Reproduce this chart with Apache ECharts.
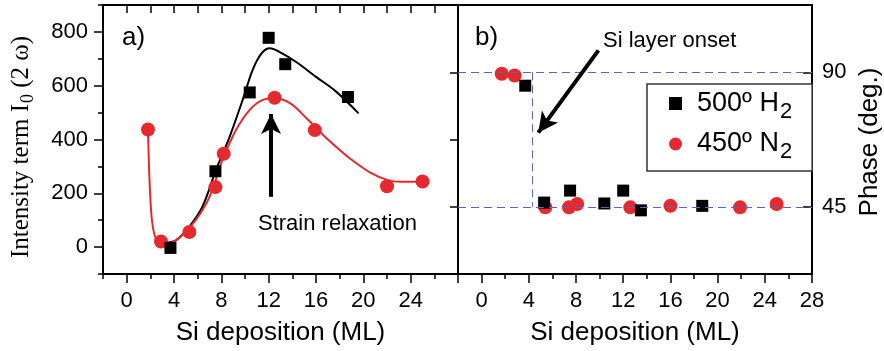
<!DOCTYPE html>
<html>
<head>
<meta charset="utf-8">
<script src="https://cdn.jsdelivr.net/npm/echarts@6/dist/echarts.min.js"></script>
<style>
  html, body { margin: 0; padding: 0; background: #fff; }
  #chart { width: 884px; height: 351px; }
</style>
</head>
<body>
<div id="chart"></div>
<script>
// 数据 (a) 强度项
const h2Deposition = [3.7, 7.5, 10.4, 12.0, 13.4, 18.7];
const h2Intensity = [-3, 282, 575, 778, 680, 558];
const n2Deposition = [1.8, 2.9, 5.3, 7.5, 8.2, 12.5, 15.9, 22.0, 25.0];
const n2Intensity = [437, 21, 56, 223, 347, 555, 435, 226, 244];

// 拟合曲线
const h2FitX = [3.3, 4.2, 5.3, 6.4, 7.55, 8.7, 9.8, 10.65, 11.4, 12.1, 12.9, 14.3, 16.0, 17.7, 19.6];
const h2FitY = [16, 26, 76, 150, 287, 410, 547, 659, 720, 739, 726, 689, 633, 578, 497];
const n2FitX = [1.8, 2.04, 2.32, 2.74, 3.6, 4.7, 5.85, 7.0, 8.1, 9.24, 10.4, 11.5, 12.5, 13.8, 15.2, 16.6, 18.3, 19.1, 20.55, 22.0, 23.1, 24.9];
const n2FitY = [435, 150, 51, 20, 16, 45, 101, 187, 324, 435, 510, 547, 553, 535, 479, 417, 350, 322, 278, 250, 243, 243];

// 数据 (b) 相位
const h2PhaseDeposition = [3.7, 5.3, 7.5, 10.4, 12.0, 13.5, 18.7];
const h2Phase = [85.5, 46.4, 50.4, 46.1, 50.4, 43.8, 45.3];
const n2PhaseDeposition = [1.7, 2.8, 5.4, 7.4, 8.1, 12.6, 16.0, 21.9, 25.0];
const n2Phase = [89.5, 88.9, 44.8, 44.8, 45.9, 44.8, 45.3, 44.8, 45.9];
const phaseLevels = [45, 90];
const onsetDeposition = 4.3;

// 刻度
const leftXLabels = [0, 4, 8, 12, 16, 20, 24];
const rightXLabels = [0, 4, 8, 12, 16, 20, 24, 28];
const xMinorTicks = [-2, 2, 6, 10, 14, 18, 22, 26];
const intensityLabels = [0, 200, 400, 600, 800];
const intensityMinor = [-100, 100, 300, 500, 700, 900];
const phaseLabels = [45, 90];

const h2Name = '500º H2';
const n2Name = '450º N2';
const RED = '#e52a2f';
const SANS = "'Liberation Sans', Arial, sans-serif";
const SERIF = "'Liberation Serif', 'Times New Roman', serif";

const zip = (xs, ys) => xs.map((x, i) => [x, ys[i]]);

const axisLine = { show: true, onZero: false, lineStyle: { color: '#000', width: 2 } };
const noLine = { show: false, onZero: false };
const tickStyle = { color: '#000', width: 1.5 };
const labelStyle = { color: '#000', fontSize: 22, fontFamily: SANS };

const xBase = (grid) => ({ type: 'value', gridIndex: grid, min: -2, max: 28, splitLine: { show: false } });
const yLeft = { type: 'value', gridIndex: 0, min: -100, max: 900, splitLine: { show: false } };
const yRight = { type: 'value', gridIndex: 1, min: 22.5, max: 112.5, interval: 22.5, splitLine: { show: false } };

const myChart = echarts.init(document.getElementById('chart'), null, { renderer: 'canvas' });

const option = {
  animation: false,
  backgroundColor: '#fff',
  grid: [
    { left: 103, top: 5, width: 355, height: 269, outerBoundsMode: 'none' },
    { left: 458, top: 5, width: 354, height: 269, outerBoundsMode: 'none' }
  ],
  xAxis: [
    {
      ...xBase(0), position: 'bottom', axisLine,
      axisTick: { show: true, length: 9, lineStyle: tickStyle, customValues: rightXLabels },
      axisLabel: { ...labelStyle, margin: 16, customValues: leftXLabels },
      name: 'Si deposition (ML)', nameLocation: 'middle', nameGap: 46,
      nameTextStyle: { fontSize: 26, fontFamily: SANS, color: '#000' }
    },
    {
      ...xBase(0), position: 'bottom', axisLine: noLine,
      axisTick: { show: true, length: 5, lineStyle: tickStyle, customValues: xMinorTicks },
      axisLabel: { show: false }
    },
    {
      // 上边框, 内侧刻度
      ...xBase(0), interval: 2, position: 'top', axisLine,
      axisTick: { show: true, inside: true, length: 8, lineStyle: tickStyle },
      axisLabel: { show: true, formatter: () => '' }
    },
    {
      ...xBase(1), position: 'bottom', axisLine,
      axisTick: { show: true, length: 9, lineStyle: tickStyle, customValues: rightXLabels },
      axisLabel: { ...labelStyle, margin: 16, customValues: rightXLabels },
      name: 'Si deposition (ML)', nameLocation: 'middle', nameGap: 46,
      nameTextStyle: { fontSize: 26, fontFamily: SANS, color: '#000' }
    },
    {
      ...xBase(1), position: 'bottom', axisLine: noLine,
      axisTick: { show: true, length: 5, lineStyle: tickStyle, customValues: xMinorTicks },
      axisLabel: { show: false }
    },
    {
      ...xBase(1), position: 'top', axisLine,
      axisTick: { show: false }, axisLabel: { show: false }
    }
  ],
  yAxis: [
    {
      ...yLeft, position: 'left', axisLine,
      axisTick: { show: true, length: 9, lineStyle: tickStyle, customValues: intensityLabels },
      axisLabel: { ...labelStyle, margin: 15, customValues: intensityLabels }
    },
    {
      ...yLeft, position: 'left', axisLine: noLine,
      axisTick: { show: true, length: 5, lineStyle: tickStyle, customValues: intensityMinor },
      axisLabel: { show: false }
    },
    {
      ...yRight, position: 'left', axisLine,
      axisTick: { show: true, length: 8, lineStyle: tickStyle },
      axisLabel: { show: false }
    },
    {
      ...yRight, position: 'right', axisLine,
      axisTick: { show: true, inside: true, length: 9, lineStyle: tickStyle, customValues: phaseLabels },
      axisLabel: {
        ...labelStyle, margin: 10,
        formatter: (v) => (phaseLabels.includes(v) ? String(v) : '')
      }
    }
  ],
  legend: {
    data: [h2Name, n2Name],
    orient: 'vertical',
    left: 647, top: 84,
    padding: [6, 20, 8, 22],
    itemGap: 8,
    itemWidth: 13, itemHeight: 13,
    backgroundColor: '#fff',
    borderColor: '#333', borderWidth: 1.5,
    selectedMode: false,
    formatter: (name) => name.replace(/(\d)$/, '{sub|$1}'),
    textStyle: {
      color: '#000', fontSize: 27, fontFamily: SANS, padding: [0, 0, 0, 10],
      rich: {
        sub: { fontSize: 22, fontFamily: SANS, color: '#000', verticalAlign: 'top', padding: [16, 0, 0, 1] }
      }
    }
  },
  series: [
    {
      name: 'h2 fit', type: 'line', xAxisIndex: 0, yAxisIndex: 0,
      data: zip(h2FitX, h2FitY), smooth: 0.35, showSymbol: false,
      lineStyle: { color: '#000', width: 2 }, z: 2,
      markLine: {
        silent: true, symbol: ['none', 'arrow'], symbolSize: [15, 20],
        label: { show: false },
        lineStyle: { color: '#000', width: 4, type: 'solid' },
        data: [[{ coord: [12.2, 187] }, { coord: [12.2, 495] }]]
      }
    },
    {
      name: 'n2 fit', type: 'line', xAxisIndex: 0, yAxisIndex: 0,
      data: zip(n2FitX, n2FitY), smooth: 0.35, showSymbol: false,
      lineStyle: { color: RED, width: 2 }, z: 2
    },
    {
      name: h2Name, type: 'scatter', xAxisIndex: 0, yAxisIndex: 0,
      symbol: 'rect', symbolSize: 12, itemStyle: { color: '#000', opacity: 1 },
      data: zip(h2Deposition, h2Intensity), z: 4
    },
    {
      name: n2Name, type: 'scatter', xAxisIndex: 0, yAxisIndex: 0,
      symbol: 'circle', symbolSize: 14, itemStyle: { color: RED, opacity: 1 },
      data: zip(n2Deposition, n2Intensity), z: 3
    },
    {
      name: h2Name, type: 'scatter', xAxisIndex: 3, yAxisIndex: 2,
      symbol: 'rect', symbolSize: 12, itemStyle: { color: '#000', opacity: 1 },
      data: zip(h2PhaseDeposition, h2Phase), z: 4,
      markLine: {
        silent: true, symbol: 'none', label: { show: false },
        lineStyle: { color: '#5a66b8', width: 1, type: [8, 5] },
        data: [
          [{ coord: [-2, phaseLevels[1]] }, { coord: [28, phaseLevels[1]] }],
          [{ coord: [-2, phaseLevels[0]] }, { coord: [28, phaseLevels[0]] }],
          [{ coord: [onsetDeposition, phaseLevels[1]] }, { coord: [onsetDeposition, phaseLevels[0]] }]
        ]
      }
    },
    {
      name: n2Name, type: 'scatter', xAxisIndex: 3, yAxisIndex: 2,
      symbol: 'circle', symbolSize: 14, itemStyle: { color: RED, opacity: 1 },
      data: zip(n2PhaseDeposition, n2Phase), z: 3,
      markLine: {
        silent: true, symbol: ['none', 'arrow'], symbolSize: [15, 20],
        label: { show: false },
        lineStyle: { color: '#000', width: 4, type: 'solid' },
        data: [[{ coord: [9.9, 97.3] }, { coord: [4.8, 69.8] }]]
      }
    }
  ],
  graphic: [
    { type: 'text', x: 122, y: 38, style: { text: 'a)', font: '26px ' + SANS, fill: '#000', verticalAlign: 'middle' } },
    { type: 'text', x: 475, y: 38, style: { text: 'b)', font: '26px ' + SANS, fill: '#000', verticalAlign: 'middle' } },
    { type: 'text', x: 258, y: 224, style: { text: 'Strain relaxation', font: '22px ' + SANS, fill: '#000', verticalAlign: 'middle' } },
    { type: 'text', x: 603, y: 41, style: { text: 'Si layer onset', font: '22px ' + SANS, fill: '#000', verticalAlign: 'middle' } },
    {
      type: 'text', x: 21, y: 147, rotation: Math.PI / 2,
      style: {
        text: 'Intensity term I{sub|0} (2 ω)', fontFamily: SERIF, fontSize: 25,
        fill: '#000', align: 'center', verticalAlign: 'middle',
        rich: { sub: { fontSize: 18, fontFamily: SERIF, fill: '#000', verticalAlign: 'top', padding: [14, 0, 0, 1] } }
      }
    },
    {
      type: 'text', x: 870, y: 142, rotation: Math.PI / 2,
      style: { text: 'Phase (deg.)', font: '26px ' + SANS, fill: '#000', align: 'center', verticalAlign: 'middle' }
    }
  ]
};

myChart.setOption(option);
</script>
</body>
</html>
